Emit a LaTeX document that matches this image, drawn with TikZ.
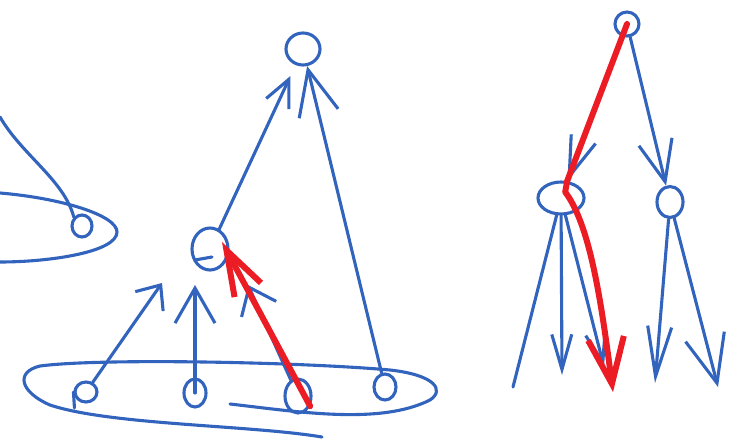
\documentclass[tikz,border=0pt]{standalone}
\usepackage{tikz}
\usetikzlibrary{arrows.meta, shapes.geometric}
\definecolor{skblue}{RGB}{50,100,190}
\definecolor{skred}{RGB}{236,28,36}

\begin{document}
\begin{tikzpicture}[x=1pt, y=-1pt, line cap=round, line join=round,
    pen/.style={skblue, line width=3.1pt},
    redpen/.style={skred, line width=6pt},
    blob/.style={ellipse, draw=skblue, line width=3.1pt, inner sep=0pt},
    barb/.style 2 args={-{Straight Barb[length=#1, width=#2]}}]
  \useasboundingbox (0,0) rectangle (733,439);

  % left group
  \node[blob, minimum width=20pt, minimum height=22pt] (lc) at (82,226) {};
  \coordinate (lt) at (0,117);
  \draw[pen] (lt) .. controls (22,155) and (64,180) .. (lc.north west);
  \draw[pen] (0,193) .. controls (60,198) and (117,215) .. (117,232)
                     .. controls (117,252) and (50,262) .. (0,262);

  % middle tree
  \node[blob, minimum width=34pt, minimum height=32pt] (top) at (303,49) {};
  \node[blob, minimum width=36pt, minimum height=42pt] (mid) at (210,249) {};
  \node[blob, minimum width=22pt, minimum height=20pt] (b1) at (86,392) {};
  \node[blob, minimum width=22pt, minimum height=28pt] (b2) at (195,393) {};
  \node[blob, minimum width=26pt, minimum height=34pt] (b3) at (298,396) {};
  \node[blob, minimum width=22pt, minimum height=26pt] (b4) at (385,387) {};
  \coordinate (t1) at (162,283);
  \coordinate (t2) at (195,285);
  \coordinate (t3) at (248,285);
  \coordinate (tr) at (222,242);

  \draw[pen] (mid.center) ++(-15,11) -- ++(17,-3);
  \draw[pen] (b1.west) -- ++(1,16);
  \draw[pen] (230,404) .. controls (300,412) and (380,425) .. (430,400)
             .. controls (445,390) and (435,375) .. (390,370)
             .. controls (300,362) and (100,358) .. (40,366)
             .. controls (15,372) and (20,392) .. (50,405)
             .. controls (110,425) and (250,425) .. (322,437);

  \draw[pen, barb={20pt}{34pt}] (b1) -- (t1);
  \draw[pen, barb={35pt}{40pt}] (b2.center) -- (t2);
  \draw[pen, barb={24pt}{38pt}] (b3) -- (t3);
  \draw[pen, barb={27pt}{25pt}, shorten >=12pt] (mid) -- (top);
  \draw[pen, barb={45pt}{40pt}] (b4) -- (top);
  \draw[redpen, barb={45pt}{30pt}] (b3.-40) -- (tr);

  % right tree
  \node[blob, minimum width=24pt, minimum height=24pt] (rt) at (627,24) {};
  \node[blob, minimum width=46pt, minimum height=32pt] (rl) at (561,198) {};
  \node[blob, minimum width=26pt, minimum height=31pt] (rr) at (670,202) {};
  \coordinate (e1) at (513,387);
  \coordinate (e2) at (562,375);
  \coordinate (e3) at (604,367);
  \coordinate (f1) at (655,383);
  \coordinate (f2) at (718,387);
  \coordinate (r3) at (613,392);

  \draw[pen, barb={40pt}{26pt}] (rt) -- (rl);
  \draw[pen, barb={41pt}{34pt}] (rt) -- (rr);
  \draw[pen] (rl) -- (e1);
  \draw[pen, barb={35pt}{20pt}] (rl) -- (e2);
  \draw[pen, barb={30pt}{20pt}] (rl) -- (e3);
  \draw[pen, barb={50pt}{24pt}] (rr) -- (f1);
  \draw[pen, barb={48pt}{40pt}] (rr) -- (f2);
  \draw[redpen, barb={46pt}{36pt}] (rt.center) -- (rl.70) -- ++(-2,11)
        .. controls (590,225) and (601,300) .. (r3);
\end{tikzpicture}
\end{document}
